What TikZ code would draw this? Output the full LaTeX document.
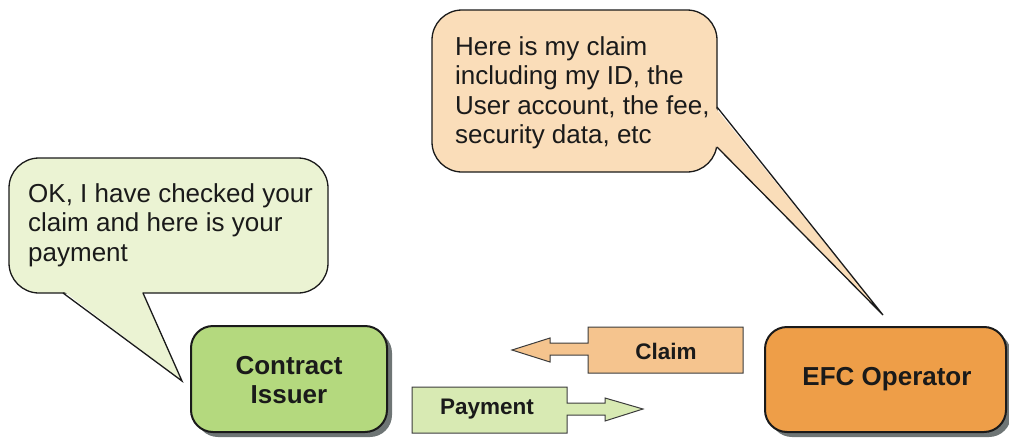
\documentclass[tikz,border=0pt]{standalone}
\usepackage{fontspec}
\setmainfont{Liberation Sans}
\definecolor{calloutgreen}{HTML}{EBF3D3}
\definecolor{boxgreen}{HTML}{B4D97E}
\definecolor{arrowgreen}{HTML}{D8EAB3}
\definecolor{arroworange}{HTML}{F5C48E}
\definecolor{calloutpeach}{HTML}{FADDB9}
\definecolor{boxorange}{HTML}{EE9E48}
\definecolor{shadowgray}{HTML}{6E7575}
\definecolor{inkblack}{HTML}{1A1A1A}
\tikzset{
  callouttext/.style={anchor=north west, inner sep=0pt, align=left, text=inkblack,
    font=\fontsize{26}{29.6}\selectfont},
  boxlabel/.style={inner sep=0pt, align=center, text=inkblack,
    font=\fontsize{26}{29}\selectfont\bfseries},
  arrowlabel/.style={inner sep=0pt, text=inkblack, font=\fontsize{22.5}{26}\selectfont\bfseries},
  outline/.style={draw=inkblack, line width=1.3pt},
  boxline/.style={draw=inkblack, line width=2pt, rounded corners=22pt},
}
\begin{document}
\begin{tikzpicture}[x=1pt,y=-1pt]
\useasboundingbox (0,0) rectangle (1009,439);
% ---- left callout
\filldraw[fill=calloutgreen, outline, rounded corners=30pt] (9,158) rectangle (328,293);
\fill[calloutgreen] (64,291.5) -- (182,381) -- (142,291.5) -- cycle;
\coordinate (tipL) at (182,381);
\draw[outline, line join=miter] (63,293) -- (tipL) -- (143,293);
\node[callouttext] (txtL) at (28,183) {OK, I have checked your\\claim and here is your\\payment};
% ---- top callout
\filldraw[fill=calloutpeach, outline, rounded corners=30pt] (432,10) rectangle (717,172);
\fill[calloutpeach] (715.5,108) -- (883,315) -- (715.5,146) -- cycle;
\coordinate (tipT) at (883,315);
\draw[outline, line join=miter] (717,107) -- (tipT) -- (717,147);
\node[callouttext] (txtT) at (455,36) {Here is my claim\\including my ID, the\\User account, the fee,\\security data, etc};
% ---- boxes with shadows
\fill[shadowgray, rounded corners=22pt] (196,331) rectangle (392,437);
\filldraw[fill=boxgreen, boxline] (191,326) rectangle (387,432);
\node[boxlabel] (ci) at (289,380) {Contract\\Issuer};
\fill[shadowgray, rounded corners=22pt] (770,332) rectangle (1011,437);
\filldraw[fill=boxorange, boxline] (765,327) rectangle (1006,432);
\node[boxlabel] (efc) at (887,379) {EFC Operator};
% ---- block arrows
\filldraw[fill=arroworange, draw=inkblack!85, line width=1pt]
  (743,327) -- (743,373) -- (588,373) -- (588,355) -- (550,355) -- (550,362)
  -- (512,350) -- (550,338) -- (550,343) -- (588,343) -- (588,327) -- cycle;
\node[arrowlabel] (claim) at (666,351) {Claim};
\filldraw[fill=arrowgreen, draw=inkblack!85, line width=1pt]
  (412,387) -- (567,387) -- (567,403) -- (605,403) -- (605,398) -- (643,409)
  -- (605,421) -- (605,415) -- (567,415) -- (567,433) -- (412,433) -- cycle;
\node[arrowlabel] (pay) at (487,409) {Payment};
\end{tikzpicture}
\end{document}
